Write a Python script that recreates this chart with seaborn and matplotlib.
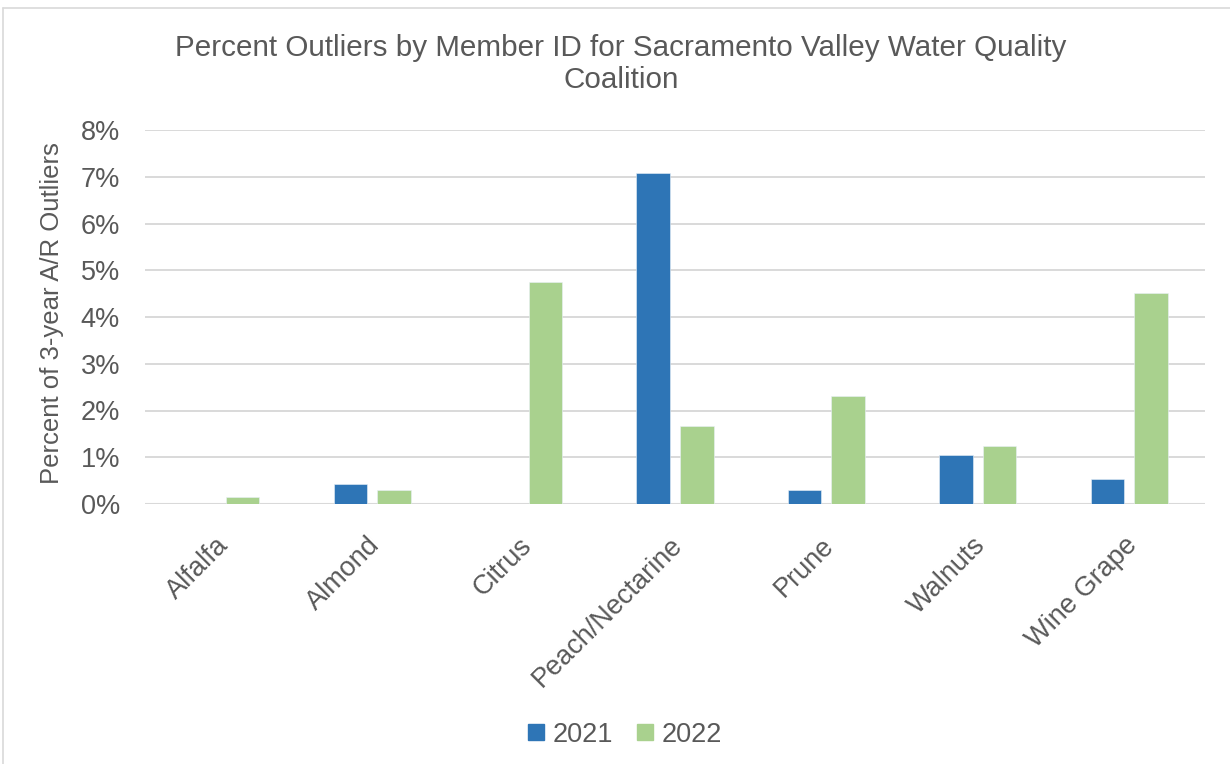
import matplotlib
matplotlib.use("Agg")
import matplotlib.pyplot as plt
import matplotlib.transforms as mtransforms
from matplotlib.ticker import FuncFormatter
from matplotlib.lines import Line2D
import pandas as pd
import seaborn as sns

# Percent of 3-year A/R outliers per crop
crops = ["Alfalfa", "Almond", "Citrus", "Peach/Nectarine", "Prune", "Walnuts", "Wine Grape"]
years = ["2021", "2022"]
pct_2021 = [0.0, 0.43, 0.0, 7.09, 0.31, 1.04, 0.53]
pct_2022 = [0.16, 0.31, 4.75, 1.67, 2.31, 1.25, 4.51]
y_ticks = [0, 1, 2, 3, 4, 5, 6, 7, 8]

title = "Percent Outliers by Member ID for Sacramento Valley Water Quality\nCoalition"
y_label = "Percent of 3-year A/R Outliers"

BLUE = "#2E75B6"
GREEN = "#A9D18E"
TEXT = "#595959"
GRID = "#D9D9D9"

df = pd.DataFrame({
    "crop": crops * 2,
    "year": [years[0]] * len(crops) + [years[1]] * len(crops),
    "pct": pct_2021 + pct_2022,
})

sns.set_theme(style="white")
plt.rcParams["font.family"] = ["Liberation Sans", "DejaVu Sans"]

fig = plt.figure(figsize=(12.3, 7.64), dpi=100)
ax = fig.add_axes([145 / 1230, 1 - 504 / 764, 1060 / 1230, 374 / 764])

sns.barplot(data=df, x="crop", y="pct", hue="year", order=crops, hue_order=years,
            palette=[BLUE, GREEN], width=0.576, gap=0.228, errorbar=None,
            edgecolor="#EAF1F8", linewidth=0.4, saturation=1, ax=ax, zorder=3)

ax.set_ylim(0, 8)
ax.set_xlim(-0.5, len(crops) - 0.5)
ax.set_yticks(y_ticks)
ax.yaxis.set_major_formatter(FuncFormatter(lambda v, _: f"{v:.0f}%"))
ax.grid(axis="y", color=GRID, linewidth=1.4, zorder=0)
ax.grid(axis="x", visible=False)
for s in ax.spines.values():
    s.set_visible(False)
ax.axhline(0, color=GRID, linewidth=1.5, zorder=2)

ax.tick_params(axis="y", length=0, pad=18, labelsize=19.5, labelcolor=TEXT)
ax.tick_params(axis="x", length=0, pad=27, labelsize=19.5, labelcolor=TEXT)
ax.set_xlabel("")
ax.set_ylabel(y_label, fontsize=18.5, color=TEXT)
ax.yaxis.set_label_coords(-0.076, 0.51)

shift = mtransforms.ScaledTranslation(4 / 100, 0, fig.dpi_scale_trans)
for lbl in ax.get_xticklabels():
    lbl.set_rotation(45)
    lbl.set_ha("right")
    lbl.set_va("center")
    lbl.set_rotation_mode("anchor")
    lbl.set_transform(lbl.get_transform() + shift)

fig.text(0.505, 1 - 64 / 764, title, ha="center", va="center", fontsize=21.3,
         color=TEXT, multialignment="center", linespacing=1.15)

ax.get_legend().remove()
handles = [Line2D([], [], marker="s", linestyle="none", markersize=11,
                  markerfacecolor=c, markeredgecolor=c) for c in (BLUE, GREEN)]
fig.legend(handles, years, loc="center", bbox_to_anchor=(625 / 1230, 1 - 734.5 / 764),
           ncol=2, frameon=False, fontsize=19.5, labelcolor=TEXT,
           handlelength=0.6, handletextpad=0.3, columnspacing=0.9)

# chart area border
fig.add_artist(Line2D([3 / 1230, 3 / 1230], [0, 1 - 8 / 764], transform=fig.transFigure,
                      color=GRID, linewidth=1.2))
fig.add_artist(Line2D([3 / 1230, 1], [1 - 8 / 764, 1 - 8 / 764], transform=fig.transFigure,
                      color=GRID, linewidth=1.2))

fig.savefig("out.png", dpi=100)
